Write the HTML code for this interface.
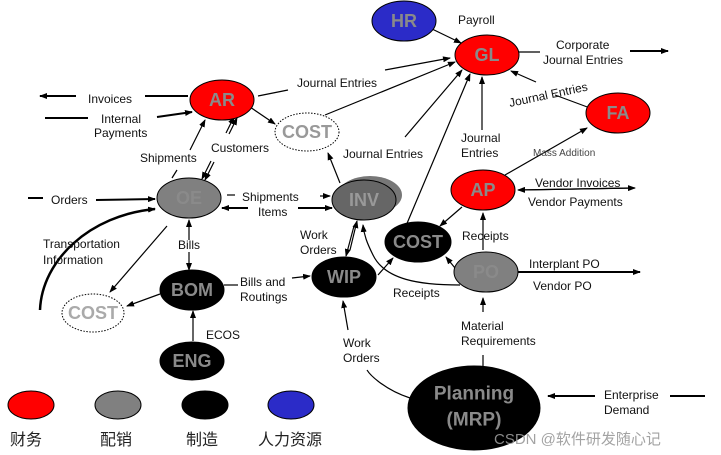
<!DOCTYPE html>
<html><head><meta charset="utf-8"><style>
html,body{margin:0;padding:0;background:#fff;}
svg{display:block;font-family:"Liberation Sans","Noto Sans CJK SC",sans-serif;}
.l{font-size:12px;fill:#111;}
.n{font-size:18px;font-weight:bold;fill:#8a8a8a;text-anchor:middle;dominant-baseline:central;}
</style></head><body>
<svg width="721" height="455" viewBox="0 0 721 455" xmlns="http://www.w3.org/2000/svg">
<defs><marker id="a" markerWidth="8" markerHeight="6" refX="7" refY="3" orient="auto" markerUnits="userSpaceOnUse"><path d="M0,0L8,3L0,6z" fill="#000"/></marker></defs>
<g stroke="#000" stroke-width="1.2" fill="none" marker-end="url(#a)">
<line x1="430" y1="28" x2="461" y2="43"/>
<polyline points="519,52 540,52" marker-end="none"/><line x1="630" y1="51" x2="668" y2="51" stroke-width="2"/>
<line x1="258" y1="96" x2="288" y2="90" marker-end="none"/><line x1="385" y1="70" x2="450" y2="58"/>
<line x1="325" y1="115" x2="455" y2="62"/>
<line x1="405" y1="137" x2="462" y2="70"/>
<line x1="400" y1="240" x2="470" y2="74"/>
<line x1="482" y1="130" x2="482" y2="77"/>
<line x1="536" y1="82" x2="511" y2="71"/>
<line x1="555" y1="95" x2="590" y2="108" marker-end="none"/>
<line x1="505" y1="175" x2="587" y2="128"/>
<line x1="188" y1="96" x2="145" y2="96" marker-end="none" stroke-width="2"/><line x1="76" y1="96" x2="40" y2="96" stroke-width="2"/>
<line x1="45" y1="118" x2="88" y2="118" marker-end="none" stroke-width="2"/><line x1="157" y1="117" x2="192" y2="112" stroke-width="2"/>
<line x1="250" y1="107" x2="275" y2="124"/>
<line x1="190" y1="150" x2="205" y2="120"/><line x1="172" y1="178" x2="177" y2="170" marker-end="none"/>
<line x1="226" y1="133" x2="234" y2="117"/><line x1="229" y1="134" x2="237" y2="118"/>
<line x1="214" y1="162" x2="205" y2="180"/><line x1="211" y1="161" x2="202" y2="179"/>
<line x1="28" y1="198" x2="43" y2="198" marker-end="none" stroke-width="2"/><line x1="96" y1="200" x2="155" y2="199" stroke-width="2"/>
<line x1="227" y1="195" x2="235" y2="195" marker-end="none"/><line x1="320" y1="196" x2="330" y2="196"/>
<line x1="298" y1="208" x2="332" y2="208" stroke-width="2"/><line x1="248" y1="208" x2="222" y2="208" stroke-width="2"/>
<line x1="340" y1="183" x2="328" y2="153"/>
<line x1="354" y1="226" x2="346" y2="256"/><line x1="350" y1="250" x2="357" y2="221"/>
<line x1="378" y1="275" x2="393" y2="258"/>
<line x1="462" y1="207" x2="440" y2="226"/>
<line x1="455" y1="268" x2="446" y2="257"/>
<path d="M460,285 C420,285 385,280 373,255 C367,243 364,235 363,225"/>
<line x1="483" y1="250" x2="483" y2="213"/>
<line x1="520" y1="190" x2="635" y2="188"/><line x1="630" y1="188" x2="518" y2="190"/>
<line x1="518" y1="272" x2="640" y2="272" stroke-width="2"/>
<line x1="483" y1="312" x2="483" y2="298"/><line x1="483" y1="366" x2="483" y2="355" marker-end="none"/>
<path d="M410,398 C385,390 370,375 367,370" marker-end="none"/><line x1="348" y1="330" x2="343" y2="301"/>
<line x1="595" y1="396" x2="548" y2="396" stroke-width="2"/><line x1="670" y1="396" x2="705" y2="396" marker-end="none" stroke-width="2"/>
<line x1="189" y1="240" x2="189" y2="220"/><line x1="189" y1="252" x2="189" y2="270"/>
<line x1="167" y1="226" x2="110" y2="292"/>
<line x1="160" y1="294" x2="127" y2="306"/>
<line x1="224" y1="285" x2="238" y2="285" marker-end="none"/><line x1="292" y1="278" x2="310" y2="276"/>
<line x1="193" y1="341" x2="193" y2="311"/>
<path d="M40,310 C42,260 90,215 155,209" stroke-width="2.5"/>
</g>
<g stroke="#000" stroke-width="1">
<ellipse cx="404" cy="21" rx="32" ry="20" fill="#2b2bc8"/>
<ellipse cx="487" cy="55" rx="32" ry="20" fill="#f00"/>
<ellipse cx="222" cy="100" rx="32" ry="20" fill="#f00"/>
<ellipse cx="307" cy="132" rx="32" ry="19" fill="#fff" stroke-dasharray="1.5,1.5"/>
<ellipse cx="618" cy="113" rx="32" ry="20" fill="#f00"/>
<ellipse cx="189" cy="198" rx="32" ry="20" fill="#808080"/>
<ellipse cx="370" cy="195" rx="32" ry="19" fill="#777" stroke="none"/>
<ellipse cx="364" cy="200" rx="32" ry="20" fill="#666"/>
<ellipse cx="483" cy="190" rx="32" ry="20" fill="#f00"/>
<ellipse cx="418" cy="242" rx="33" ry="20" fill="#000"/>
<ellipse cx="486" cy="272" rx="32" ry="20" fill="#808080"/>
<ellipse cx="344" cy="277" rx="32" ry="20" fill="#000"/>
<ellipse cx="192" cy="290" rx="32" ry="20" fill="#000"/>
<ellipse cx="93" cy="313" rx="31" ry="19" fill="#fff" stroke-dasharray="1.5,1.5"/>
<ellipse cx="192" cy="361" rx="32" ry="19" fill="#000"/>
<ellipse cx="474" cy="408" rx="66" ry="42" fill="#000"/>
<ellipse cx="31" cy="405" rx="23" ry="14" fill="#f00"/>
<ellipse cx="118" cy="405" rx="23" ry="14" fill="#808080"/>
<ellipse cx="205" cy="405" rx="23" ry="14" fill="#000"/>
<ellipse cx="291" cy="405" rx="23" ry="14" fill="#2b2bc8"/>
</g>
<g class="n">
<text x="404" y="21">HR</text><text x="487" y="55">GL</text><text x="222" y="100">AR</text>
<text x="307" y="132" fill="#999">COST</text><text x="618" y="113">FA</text><text x="189" y="198">OE</text>
<text x="364" y="200" fill="#999">INV</text><text x="483" y="190">AP</text><text x="418" y="242">COST</text>
<text x="486" y="272">PO</text><text x="344" y="277">WIP</text><text x="192" y="290">BOM</text>
<text x="93" y="313" fill="#aaa">COST</text><text x="192" y="361">ENG</text>
<text x="474" y="394" font-size="19">Planning</text><text x="474" y="420" font-size="19">(MRP)</text>
</g>
<g class="l">
<text x="458" y="24">Payroll</text>
<text x="556" y="49">Corporate</text><text x="543" y="64">Journal Entries</text>
<text x="297" y="87">Journal Entries</text>
<text x="510" y="107" transform="rotate(-12 510 107)">Journal Entries</text>
<text x="88" y="103">Invoices</text>
<text x="101" y="123">Internal</text><text x="94" y="137">Payments</text>
<text x="140" y="162">Shipments</text><text x="211" y="152">Customers</text>
<text x="343" y="158">Journal Entries</text>
<text x="461" y="142">Journal</text><text x="461" y="157">Entries</text>
<text x="533" y="156" font-size="10" fill="#444">Mass Addition</text>
<text x="51" y="204">Orders</text>
<text x="242" y="201">Shipments</text><text x="258" y="216">Items</text>
<text x="535" y="187">Vendor Invoices</text><text x="528" y="206">Vendor Payments</text>
<text x="43" y="248">Transportation</text><text x="43" y="264">Information</text>
<text x="178" y="249">Bills</text>
<text x="300" y="239">Work</text><text x="300" y="254">Orders</text>
<text x="462" y="240">Receipts</text>
<text x="529" y="268">Interplant PO</text><text x="533" y="290">Vendor PO</text>
<text x="240" y="286">Bills and</text><text x="240" y="301">Routings</text>
<text x="393" y="297">Receipts</text>
<text x="206" y="339">ECOS</text>
<text x="461" y="330">Material</text><text x="461" y="345">Requirements</text>
<text x="343" y="347">Work</text><text x="343" y="362">Orders</text>
<text x="604" y="399">Enterprise</text><text x="604" y="414">Demand</text>
</g>
<g font-size="16" fill="#222">
<text x="10" y="445">财务</text><text x="100" y="445">配销</text><text x="186" y="445">制造</text><text x="258" y="445">人力资源</text>
</g>
<text x="494" y="444" font-size="15" fill="#999" opacity="0.9">CSDN @软件研发随心记</text>
</svg>
</body></html>
